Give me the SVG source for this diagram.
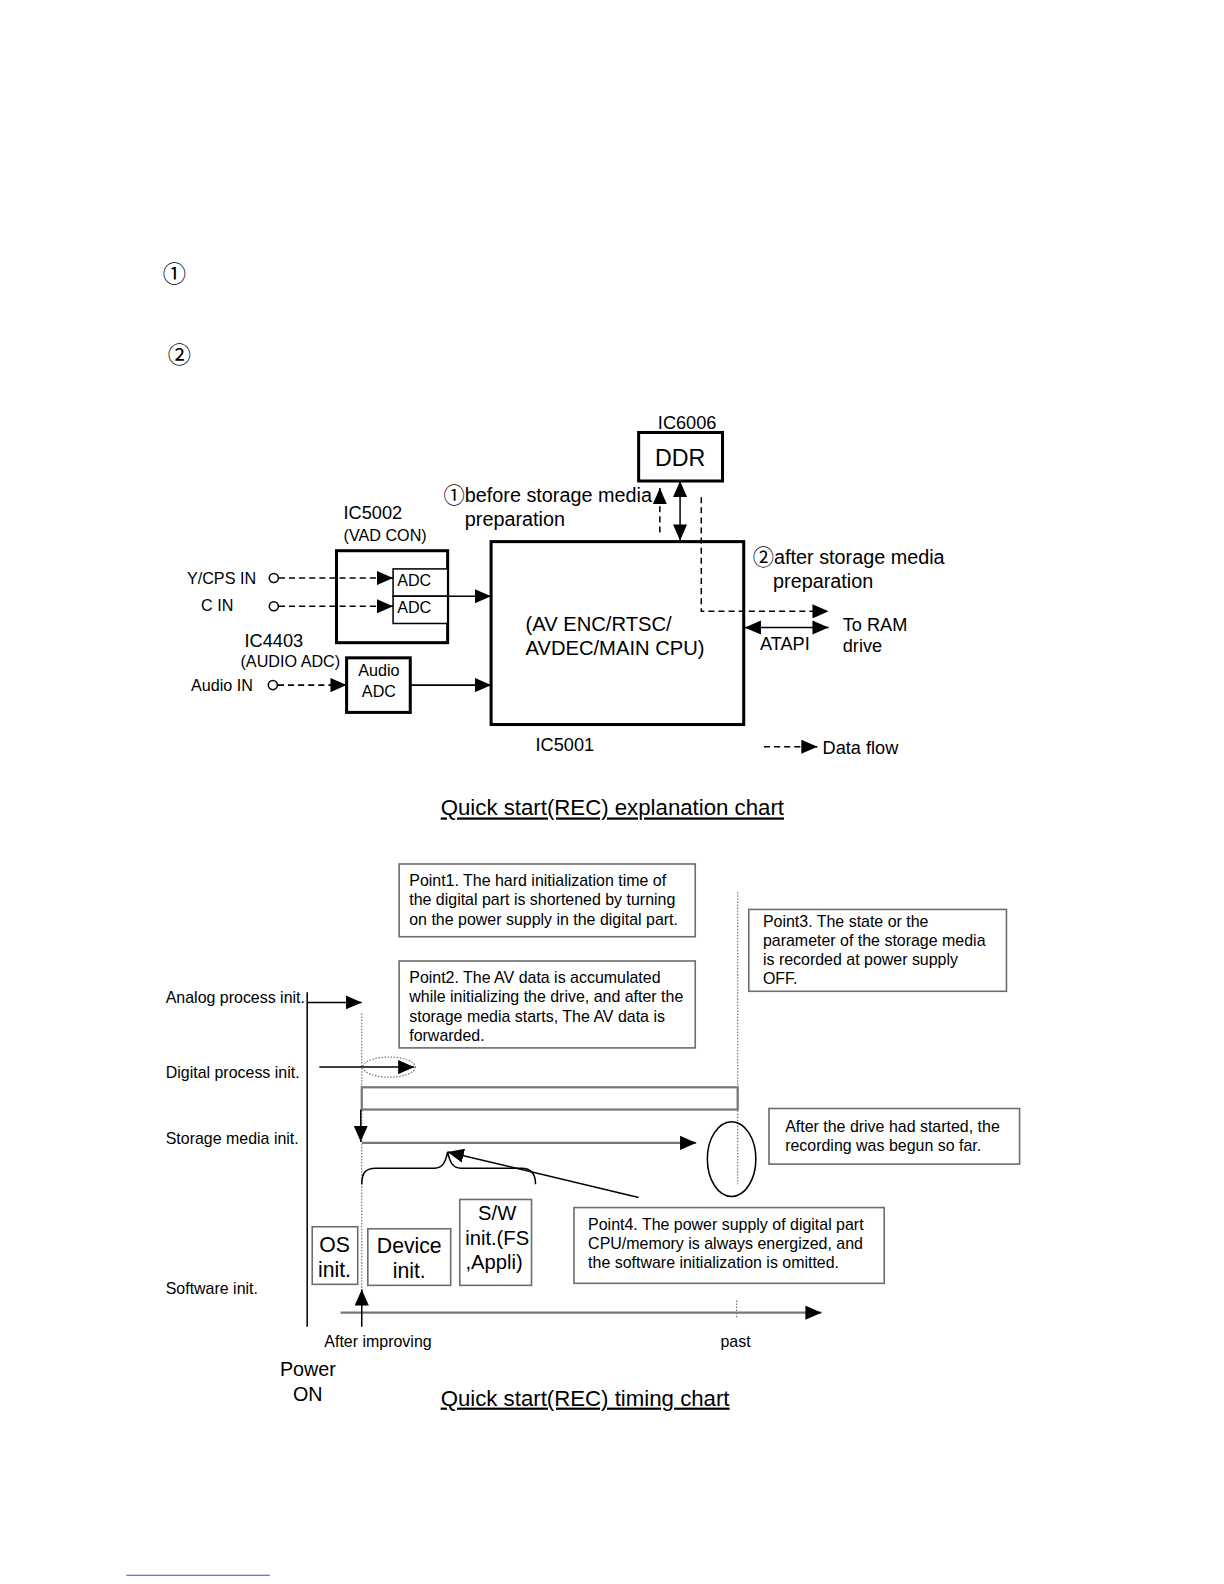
<svg xmlns="http://www.w3.org/2000/svg" width="1224" height="1584" viewBox="0 0 1224 1584">
<style>
text{font-family:"Liberation Sans",Arial,"Noto Sans CJK JP",sans-serif;fill:#000}
.cj{font-family:"Noto Sans CJK JP","DejaVu Sans",sans-serif}
.thick{fill:#fff;stroke:#000;stroke-width:3}
.thin{fill:#fff;stroke:#000;stroke-width:1.5}
.gbox{fill:#fff;stroke:#6e6e6e;stroke-width:1.6}
.ln{fill:none;stroke:#000;stroke-width:1.5}
.dash{fill:none;stroke:#000;stroke-width:1.5;stroke-dasharray:6 4}
.gl{fill:none;stroke:#777;stroke-width:2.2}
.dot{fill:none;stroke:#777;stroke-width:1.2;stroke-dasharray:1.5 1.5}
.s16{font-size:16px}
.s18{font-size:18px}
.s20{font-size:19.6px}
.s15{font-size:15.8px}
.s21{font-size:21px}
.title{font-size:22px;text-decoration:underline}
</style>
<defs>
<marker id="ah" viewBox="0 0 16 14" refX="16" refY="7" markerWidth="16" markerHeight="14" markerUnits="userSpaceOnUse" orient="auto-start-reverse">
<path d="M0,0 L16,7 L0,14 z" fill="#000"/>
</marker>
</defs>
<g transform="scale(1.0105)">
<!-- page circled markers -->
<text class="cj" x="161" y="279" font-size="23">①</text>
<text class="cj" x="166" y="359" font-size="23">②</text>

<!-- Explanation chart nodes -->
<g id="ddr">
<text class="s18" x="680" y="425" text-anchor="middle">IC6006</text>
<rect class="thick" x="632" y="428" width="83" height="48"/>
<text x="673" y="461" font-size="23" text-anchor="middle">DDR</text>
</g>
<g id="ic5001">
<rect class="thick" x="486" y="536" width="250" height="181"/>
<text x="520" y="624" font-size="20">(AV ENC/RTSC/</text>
<text x="520" y="648" font-size="20">AVDEC/MAIN CPU)</text>
<text class="s18" x="530" y="743">IC5001</text>
</g>
<g id="ic5002">
<text class="s18" x="340" y="514">IC5002</text>
<text class="s16" x="340" y="535">(VAD CON)</text>
<rect class="thick" x="333" y="545" width="110" height="91"/>
<rect class="thin" x="389" y="563" width="54" height="27"/>
<rect class="thin" x="389" y="590" width="54" height="27"/>
<text class="s16" x="393" y="580">ADC</text>
<text class="s16" x="393" y="607">ADC</text>
</g>
<g id="ic4403">
<text class="s18" x="242" y="640">IC4403</text>
<text class="s16" x="238" y="660">(AUDIO ADC)</text>
<rect class="thick" x="343" y="651" width="63" height="54"/>
<text class="s16" x="375" y="669" text-anchor="middle">Audio</text>
<text class="s16" x="375" y="690" text-anchor="middle">ADC</text>
</g>
<g id="inputs">
<text class="s16" x="185" y="578">Y/CPS IN</text>
<text class="s16" x="199" y="605">C IN</text>
<text class="s16" x="189" y="684">Audio IN</text>
<circle class="thin" cx="271" cy="572" r="4.5"/>
<circle class="thin" cx="271" cy="600" r="4.5"/>
<circle class="thin" cx="270" cy="678" r="4.5"/>
</g>
<g id="labels-top">
<text class="cj" x="439" y="498" font-size="21">①</text>
<text class="s20" x="460" y="497">before storage media</text>
<text class="s20" x="460" y="521">preparation</text>
<text class="cj" x="745" y="559" font-size="21">②</text>
<text class="s20" x="766" y="558">after storage media</text>
<text class="s20" x="765" y="582">preparation</text>
<text class="s18" x="752" y="643">ATAPI</text>
<text class="s18" x="834" y="624">To RAM</text>
<text class="s18" x="834" y="645">drive</text>
<text class="s18" x="814" y="746">Data flow</text>
</g>
<g id="connectors-top">
<line class="dash" x1="276" y1="572" x2="389" y2="572" marker-end="url(#ah)"/>
<line class="dash" x1="276" y1="600" x2="389" y2="600" marker-end="url(#ah)"/>
<line class="dash" x1="275" y1="678" x2="343" y2="678" marker-end="url(#ah)"/>
<line class="ln" x1="443" y1="590" x2="486" y2="590" marker-end="url(#ah)"/>
<line class="ln" x1="406" y1="678" x2="486" y2="678" marker-end="url(#ah)"/>
<line class="dash" x1="653" y1="527" x2="653" y2="483" marker-end="url(#ah)"/>
<line class="ln" x1="673" y1="476" x2="673" y2="535" marker-start="url(#ah)" marker-end="url(#ah)"/>
<polyline class="dash" points="694,492 694,605 820,605" marker-end="url(#ah)"/>
<line class="ln" x1="737" y1="621" x2="820" y2="621" marker-start="url(#ah)" marker-end="url(#ah)"/>
<line class="dash" x1="756" y1="739" x2="809" y2="739" marker-end="url(#ah)"/>
</g>
<text class="title" x="606" y="807" text-anchor="middle">Quick start(REC) explanation chart</text>

<!-- Timing chart -->
<g id="point1">
<rect class="gbox" x="395" y="855" width="293" height="72"/>
<text class="s15" x="405" y="877">Point1. The hard initialization time of</text>
<text class="s15" x="405" y="896">the digital part is shortened by turning</text>
<text class="s15" x="405" y="915">on the power supply in the digital part.</text>
</g>
<g id="point2">
<rect class="gbox" x="395" y="951" width="293" height="86"/>
<text class="s15" x="405" y="973">Point2. The AV data is accumulated</text>
<text class="s15" x="405" y="992">while initializing the drive, and after the</text>
<text class="s15" x="405" y="1011">storage media starts, The AV data is</text>
<text class="s15" x="405" y="1030">forwarded.</text>
</g>
<g id="point3">
<rect class="gbox" x="741" y="900" width="255" height="81"/>
<text class="s15" x="755" y="917">Point3. The state or the</text>
<text class="s15" x="755" y="936">parameter of the storage media</text>
<text class="s15" x="755" y="955">is recorded at power supply</text>
<text class="s15" x="755" y="974">OFF.</text>
</g>
<g id="note-drive">
<rect class="gbox" x="761" y="1097" width="248" height="55"/>
<text class="s15" x="777" y="1120">After the drive had started, the</text>
<text class="s15" x="777" y="1139">recording was begun so far.</text>
</g>
<g id="point4">
<rect class="gbox" x="568" y="1195" width="307" height="75"/>
<text class="s15" x="582" y="1217">Point4. The power supply of digital part</text>
<text class="s15" x="582" y="1236">CPU/memory is always energized, and</text>
<text class="s15" x="582" y="1255">the software initialization is omitted.</text>
</g>
<g id="os-init">
<rect class="gbox" x="309" y="1214" width="45" height="57"/>
<text class="s21" x="331" y="1239" text-anchor="middle">OS</text>
<text class="s21" x="331" y="1264" text-anchor="middle">init.</text>
</g>
<g id="device-init">
<rect class="gbox" x="364" y="1216" width="82" height="56"/>
<text class="s21" x="405" y="1240" text-anchor="middle">Device</text>
<text class="s21" x="405" y="1265" text-anchor="middle">init.</text>
</g>
<g id="sw-init">
<rect class="gbox" x="455" y="1187" width="71" height="85"/>
<text x="492" y="1207" font-size="20" text-anchor="middle">S/W</text>
<text x="492" y="1232" font-size="20" text-anchor="middle">init.(FS</text>
<text x="489" y="1256" font-size="20" text-anchor="middle">,Appli)</text>
</g>
<g id="timing-labels">
<text class="s15" x="164" y="993">Analog process init.</text>
<text class="s15" x="164" y="1067">Digital process init.</text>
<text class="s15" x="164" y="1132">Storage media init.</text>
<text class="s15" x="164" y="1281">Software init.</text>
<text class="s15" x="321" y="1333">After improving</text>
<text class="s15" x="713" y="1333">past</text>
<text x="277" y="1362" font-size="19.5">Power</text>
<text x="290" y="1386" font-size="19.5">ON</text>
</g>
<g id="connectors-timing">
<line class="ln" x1="304" y1="982" x2="304" y2="1313" stroke-width="1.2"/>
<line class="dot" x1="358" y1="1003" x2="358" y2="1290"/>
<line class="dot" x1="730" y1="883" x2="730" y2="1172"/>
<line class="dot" x1="729" y1="1287" x2="729" y2="1305"/>
<line class="ln" x1="304" y1="992" x2="358" y2="992" stroke-width="1.2" marker-end="url(#ah)"/>
<line class="ln" x1="316" y1="1056" x2="410" y2="1056" stroke-width="1.2" marker-end="url(#ah)"/>
<ellipse class="dot" cx="385" cy="1056" rx="26" ry="10"/>
<rect class="gl" x="358" y="1076" width="372" height="22"/>
<line class="ln" x1="357" y1="1098" x2="357" y2="1130" stroke-width="1.2" marker-end="url(#ah)"/>
<line class="gl" x1="358" y1="1131" x2="689" y2="1131" marker-end="url(#ah)"/>
<ellipse class="ln" cx="724" cy="1147" rx="24" ry="37" stroke-width="1.2"/>
<path class="ln" stroke-width="1.2" d="M358,1172 C358,1160 362,1156 372,1156 L430,1156 C438,1156 441,1150 443,1140 C445,1150 448,1156 456,1156 L516,1156 C526,1156 530,1162 530,1172"/>
<line class="ln" x1="632" y1="1185" x2="443" y2="1140" stroke-width="1.2" marker-end="url(#ah)"/>
<line class="gl" x1="337" y1="1299" x2="813" y2="1299" marker-end="url(#ah)"/>
<line class="ln" x1="358" y1="1313" x2="358" y2="1276" stroke-width="1.2" marker-end="url(#ah)"/>
</g>
<text class="title" x="579" y="1391" text-anchor="middle">Quick start(REC) timing chart</text>
<line x1="125" y1="1559" x2="267" y2="1559" stroke="#3050c0" stroke-width="1"/>
</g>
</svg>
